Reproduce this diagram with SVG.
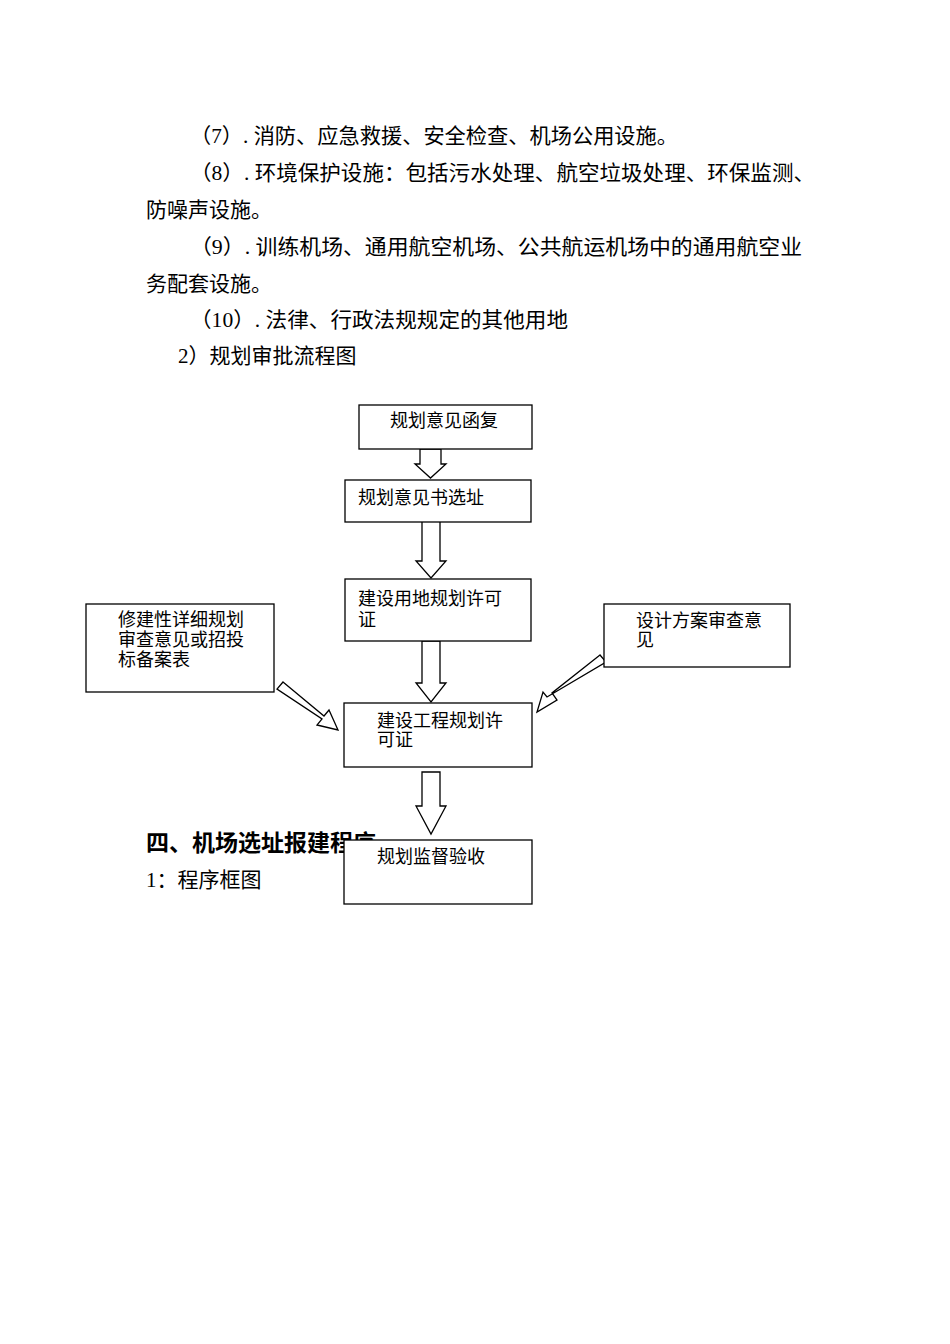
<svg xmlns="http://www.w3.org/2000/svg" width="950" height="1344" viewBox="0 0 950 1344">
<style>
.t{font-family:"Liberation Serif","Noto Sans CJK SC",serif;font-size:21px;fill:#000}
.b{font-family:"Liberation Serif","Noto Sans CJK SC",serif;font-size:18px;fill:#000}
.h{font-family:"Liberation Sans","Noto Sans CJK SC",sans-serif;font-size:23px;font-weight:bold;fill:#000}
.box{fill:#fff;stroke:#000;stroke-width:1.3}
.ar{fill:#fff;stroke:#000;stroke-width:1.3}
</style>
<rect width="950" height="1344" fill="#fff"/>
<g id="text">
<text class="t" x="190" y="143" textLength="488" lengthAdjust="spacingAndGlyphs">（7）. 消防、应急救援、安全检查、机场公用设施。</text>
<text class="t" x="190" y="180" textLength="625" lengthAdjust="spacingAndGlyphs">（8）. 环境保护设施：包括污水处理、航空垃圾处理、环保监测、</text>
<text class="t" x="146" y="217">防噪声设施。</text>
<text class="t" x="190" y="254" textLength="612" lengthAdjust="spacingAndGlyphs">（9）. 训练机场、通用航空机场、公共航运机场中的通用航空业</text>
<text class="t" x="146" y="291">务配套设施。</text>
<text class="t" x="190" y="327" textLength="378" lengthAdjust="spacingAndGlyphs">（10）. 法律、行政法规规定的其他用地</text>
<text class="t" x="178" y="363">2）规划审批流程图</text>
<text class="h" x="146" y="851">四、机场选址报建程序</text>
<text class="t" x="146" y="887">1：程序框图</text>
</g>
<g id="connectors">
<polygon class="ar" points="420,449 441,449 441,464 446,464 430.5,478 415,464 420,464"/>
<polygon class="ar" points="422,518 440,518 440,561 446,561 431,578 416,561 422,561"/>
<polygon class="ar" points="422,641 440,641 440,683 446,683 431,702 416,683 422,683"/>
<polygon class="ar" points="422,772 440,772 440,806 446,806 431,834 416,806 422,806"/>
<polygon class="ar" points="283,682 324,716 329,710 338,730 317,725 322,719 277,689" />
<polygon class="ar" points="600,655 552,693 557,700 537,712 543,692 547,697 606,662"/>
</g>
<g id="n1"><rect class="box" x="359" y="405" width="173" height="44"/><text class="b" x="390" y="427">规划意见函复</text></g>
<g id="n2"><rect class="box" x="345" y="480" width="186" height="42"/><text class="b" x="358" y="504">规划意见书选址</text></g>
<g id="n3"><rect class="box" x="345" y="579" width="186" height="62"/><text class="b" x="358" y="605">建设用地规划许可</text><text class="b" x="358" y="626">证</text></g>
<g id="n4"><rect class="box" x="86" y="604" width="188" height="88"/><text class="b" x="118" y="626">修建性详细规划</text><text class="b" x="118" y="646">审查意见或招投</text><text class="b" x="118" y="666">标备案表</text></g>
<g id="n5"><rect class="box" x="604" y="604" width="186" height="63"/><text class="b" x="636" y="627">设计方案审查意</text><text class="b" x="636" y="646">见</text></g>
<g id="n6"><rect class="box" x="344" y="703" width="188" height="64"/><text class="b" x="377" y="727">建设工程规划许</text><text class="b" x="377" y="746">可证</text></g>
<g id="n7"><rect class="box" x="344" y="840" width="188" height="64"/><text class="b" x="377" y="863">规划监督验收</text></g>
</svg>
